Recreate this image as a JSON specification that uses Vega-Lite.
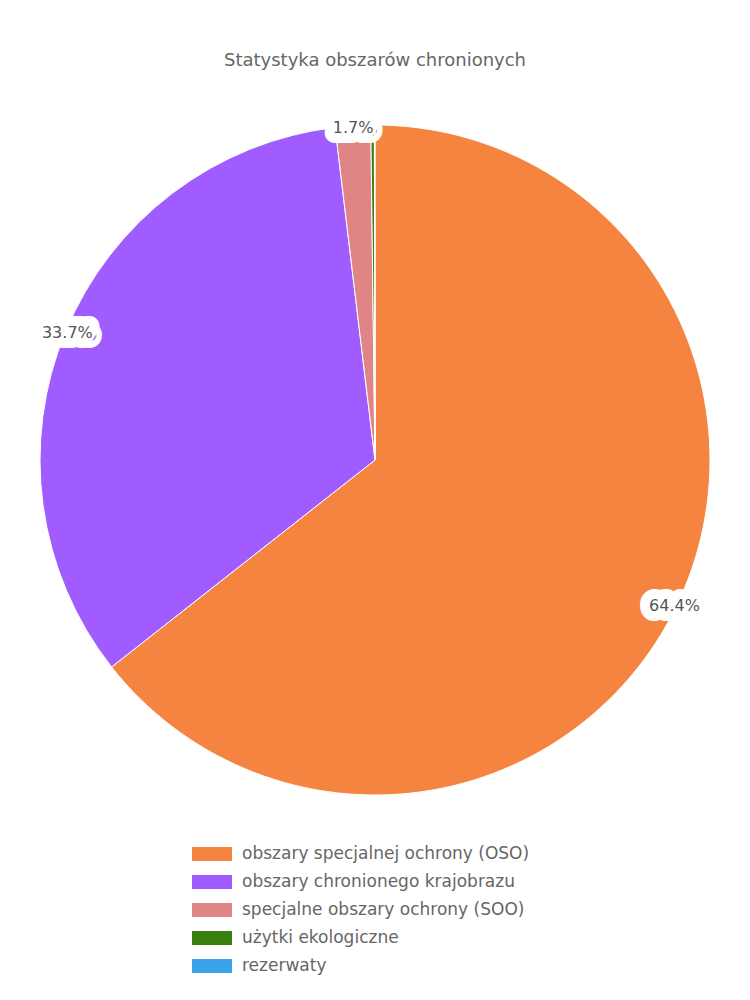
{
  "$schema": "https://vega.github.io/schema/vega-lite/v6.json",
  "width": 750,
  "height": 670,
  "autosize": {"type": "none"},
  "padding": {"top": 125, "left": 0, "right": 0, "bottom": 205},
  "background": "white",
  "title": {
    "text": "Statystyka obszarów chronionych",
    "fontSize": 18,
    "font": "DejaVu Sans",
    "fontWeight": "normal",
    "color": "#666666",
    "offset": 49,
    "anchor": "middle"
  },
  "config": {"view": {"stroke": null}, "font": "DejaVu Sans"},
  "data": {
    "values": [
      {"idx": 0, "category": "obszary specjalnej ochrony (OSO)", "value": 64.4},
      {"idx": 1, "category": "obszary chronionego krajobrazu", "value": 33.7},
      {"idx": 2, "category": "specjalne obszary ochrony (SOO)", "value": 1.7},
      {"idx": 3, "category": "użytki ekologiczne", "value": 0.17},
      {"idx": 4, "category": "rezerwaty", "value": 0.03}
    ]
  },
  "transform": [
    {"calculate": "datum.value >= 1 ? format(datum.value, '.1f') + '%' : ''", "as": "label"}
  ],
  "encoding": {
    "theta": {"field": "value", "type": "quantitative", "stack": true},
    "order": {"field": "idx", "type": "quantitative", "sort": "ascending"}
  },
  "layer": [
    {
      "mark": {"type": "arc", "radius": 335, "stroke": "white", "strokeWidth": 1},
      "encoding": {
        "color": {
          "field": "category",
          "type": "nominal",
          "sort": null,
          "scale": {
            "domain": ["obszary specjalnej ochrony (OSO)", "obszary chronionego krajobrazu", "specjalne obszary ochrony (SOO)", "użytki ekologiczne", "rezerwaty"],
            "range": ["#f4843f", "#a05cff", "#e08585", "#3b7f0e", "#38a3e8"]
          },
          "legend": {
            "title": null,
            "orient": "none",
            "legendX": 202,
            "legendY": 719,
            "direction": "vertical",
            "columns": 1,
            "labelFontSize": 17,
            "labelColor": "#666666",
            "labelFont": "DejaVu Sans",
            "labelOffset": 20,
            "labelLimit": 400,
            "symbolType": "M-2,-0.7L2,-0.7L2,0.7L-2,0.7Z",
            "symbolSize": 400,
            "symbolStrokeWidth": 0,
            "symbolOpacity": 1,
            "rowPadding": 10
          }
        }
      }
    },
    {
      "mark": {"type": "text", "radius": 333, "fontSize": 16, "stroke": "white", "strokeWidth": 20, "strokeJoin": "round", "fill": "white"},
      "encoding": {"text": {"field": "label"}}
    },
    {
      "mark": {"type": "text", "radius": 333, "fontSize": 16, "fill": "#555555"},
      "encoding": {"text": {"field": "label"}}
    }
  ]
}
